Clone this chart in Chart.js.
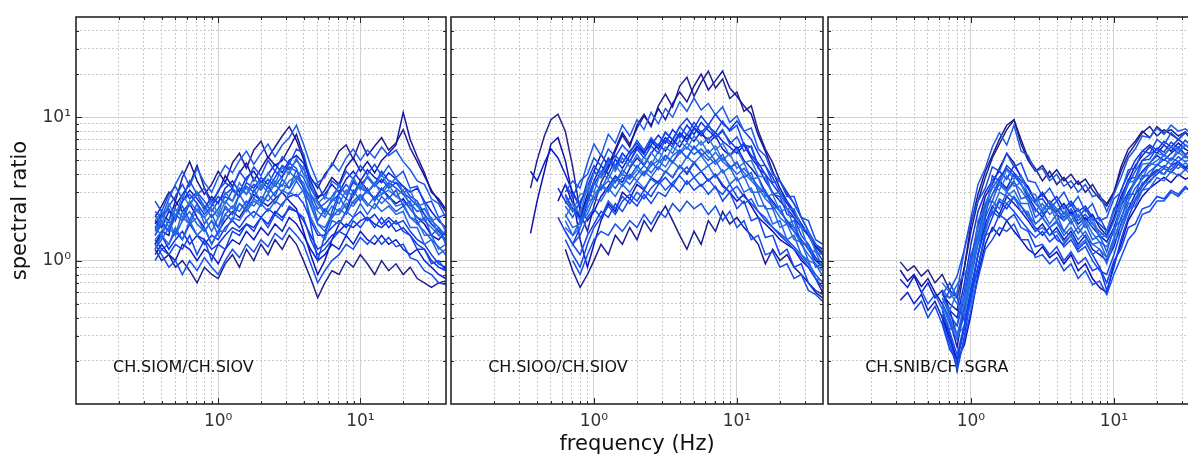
<!DOCTYPE html>
<html>
<head>
<meta charset="utf-8">
<script src="https://cdn.jsdelivr.net/npm/chart.js@4.4.1/dist/chart.umd.min.js"></script>
<style>
  html, body { margin: 0; padding: 0; background: #fff; overflow: hidden; width: 1188px; height: 460px; }
  canvas { position: absolute; top: 0; }
</style>
</head>
<body>
<canvas id="siom" width="450" height="460" style="left:0"></canvas>
<canvas id="sioo" width="380" height="460" style="left:447px"></canvas>
<canvas id="snib" width="380" height="460" style="left:824px"></canvas>
<script>
// frequencies (Hz) of the spectral ratio samples
const freq = [0.36, 0.4, 0.45, 0.5, 0.56, 0.63, 0.71, 0.8, 0.9, 1, 1.12, 1.26, 1.41, 1.58, 1.78, 2, 2.24, 2.51, 2.82, 3.16,
  3.55, 3.98, 4.47, 5.01, 5.62, 6.31, 7.08, 7.94, 8.91, 10, 11.2, 12.6, 14.1, 15.8, 17.8, 20, 22.4, 25.1, 28.2, 31.6, 35.5, 39.8];
const freqSnib = [0.32].concat(freq);

// grid / tick positions
const xGrid = [0.2, 0.3, 0.4, 0.5, 0.6, 0.7, 0.8, 0.9, 1, 2, 3, 4, 5, 6, 7, 8, 9, 10, 20, 30];
const yGrid = [0.2, 0.3, 0.4, 0.5, 0.6, 0.7, 0.8, 0.9, 1, 2, 3, 4, 5, 6, 7, 8, 9, 10, 20, 30, 40];
const majorTicks = [1, 10];
const tickLabels = { 1: '10\u2070', 10: '10\u00b9' };

const stationPairs = ['CH.SIOM/CH.SIOV', 'CH.SIOO/CH.SIOV', 'CH.SNIB/CH.SGRA'];

// spectral ratio curves, one array per event (first ones are drawn on top)
const siomCurves = [
  [2.1, 1.8, 2.5, 2.0, 2.9, 2.4, 3.0, 2.2, 2.6, 2.1, 3.0, 2.6, 3.5, 2.9, 3.8, 3.2, 4.1, 3.4, 4.5, 4.0, 5.2, 4.0, 3.4, 2.5, 2.8, 2.6, 3.4, 2.9, 3.8, 3.1, 3.9, 3.3, 4.0, 3.3, 3.8, 3.0, 3.1, 2.4, 2.5, 1.9, 2.0, 1.6],
  [1.2, 1.5, 1.3, 1.7, 1.4, 1.9, 1.5, 1.7, 1.3, 1.6, 1.6, 2.0, 1.9, 2.3, 2.0, 2.5, 2.2, 2.6, 2.4, 3.0, 2.8, 3.1, 2.0, 1.6, 1.4, 1.9, 1.8, 2.2, 2.0, 2.5, 2.1, 2.5, 2.2, 2.4, 2.1, 2.2, 1.7, 1.7, 1.3, 1.4, 1.1, 1.2],
  [1.5, 1.9, 1.6, 2.0, 2.4, 1.9, 2.5, 1.8, 2.1, 1.7, 2.4, 2.1, 2.9, 2.4, 3.1, 2.6, 3.3, 2.8, 3.7, 3.2, 4.3, 3.2, 2.8, 1.9, 2.3, 2.0, 2.8, 2.3, 3.1, 2.6, 3.2, 2.6, 3.2, 2.7, 3.1, 2.4, 2.6, 1.8, 2.0, 1.5, 1.7, 1.3],
  [2.6, 2.2, 2.9, 3.3, 2.7, 3.6, 2.9, 3.2, 2.4, 3.1, 3.5, 3.2, 4.2, 3.6, 4.5, 3.9, 5.0, 4.2, 5.3, 4.7, 6.0, 5.6, 3.6, 3.4, 2.7, 3.6, 3.3, 4.2, 3.7, 4.6, 4.0, 4.7, 3.9, 4.6, 3.8, 4.2, 3.2, 3.3, 2.5, 2.6, 2.0, 2.1],
  [1.0, 1.2, 1.1, 1.3, 1.2, 1.5, 1.1, 1.4, 1.0, 1.3, 1.2, 1.6, 1.5, 1.8, 1.6, 2.0, 1.7, 2.1, 1.9, 2.4, 2.2, 2.0, 1.4, 1.1, 1.2, 1.4, 1.6, 1.5, 1.9, 1.7, 2.0, 1.7, 2.0, 1.7, 1.9, 1.6, 1.5, 1.2, 1.2, 0.95, 1.0, 0.85],
  [1.9, 2.2, 1.7, 2.3, 2.0, 2.6, 2.2, 2.0, 2.3, 2.0, 2.6, 2.3, 2.9, 3.2, 2.7, 3.4, 3.0, 3.6, 3.3, 4.2, 3.7, 4.5, 2.9, 2.5, 2.1, 2.7, 2.5, 3.1, 2.8, 3.4, 3.0, 3.5, 2.9, 3.4, 2.8, 3.1, 2.4, 2.5, 1.9, 2.0, 1.5, 1.6],
  [1.4, 1.6, 1.9, 1.5, 2.2, 1.8, 2.0, 1.6, 1.9, 1.5, 2.1, 1.9, 2.5, 2.2, 2.6, 2.4, 2.9, 2.5, 3.1, 2.9, 3.6, 3.0, 2.5, 1.8, 1.7, 2.1, 2.1, 2.5, 2.4, 2.8, 2.4, 2.8, 2.5, 2.8, 2.4, 2.5, 2.0, 1.9, 1.5, 1.5, 1.2, 1.3],
  [1.6, 2.0, 2.7, 3.4, 4.2, 3.3, 4.4, 3.5, 3.0, 3.8, 4.6, 4.1, 5.0, 5.8, 4.7, 5.6, 6.5, 5.3, 6.4, 7.2, 8.8, 6.5, 4.6, 3.5, 3.8, 4.8, 4.2, 5.2, 6.0, 5.0, 5.9, 5.2, 6.2, 5.4, 5.9, 4.9, 4.3, 3.6, 3.4, 2.7, 2.5, 2.0],
  [1.3, 1.1, 0.9, 1.0, 0.8, 1.0, 0.85, 1.05, 0.9, 0.8, 1.0, 1.2, 1.05, 1.3, 1.15, 1.4, 1.25, 1.55, 1.4, 1.7, 1.5, 1.3, 0.95, 0.7, 0.85, 1.0, 1.1, 1.3, 1.2, 1.45, 1.3, 1.5, 1.3, 1.45, 1.25, 1.3, 1.05, 1.0, 0.85, 0.8, 0.7, 0.68],
  [1.7, 2.0, 2.3, 1.9, 2.6, 2.9, 2.5, 2.1, 2.4, 2.8, 2.5, 3.1, 2.8, 3.5, 3.2, 3.8, 3.4, 4.2, 3.8, 4.8, 4.4, 3.2, 1.8, 1.0, 1.5, 2.2, 3.0, 2.7, 3.6, 3.2, 3.9, 3.4, 4.2, 3.6, 3.5, 3.3, 2.8, 2.6, 2.1, 1.8, 1.6, 1.5],
  [1.7, 1.5, 1.9, 2.3, 2.0, 1.8, 2.3, 2.0, 1.6, 2.0, 2.3, 2.1, 2.5, 2.3, 2.7, 2.5, 2.9, 3.4, 3.0, 3.6, 3.9, 3.5, 2.6, 2.2, 2.0, 2.4, 2.2, 2.7, 2.5, 2.8, 3.0, 2.7, 2.9, 3.1, 2.8, 2.6, 2.3, 2.0, 1.9, 1.7, 1.5, 1.4],
  [1.2, 1.4, 1.7, 1.5, 1.9, 2.2, 1.8, 1.6, 1.9, 1.7, 2.1, 2.4, 2.2, 2.6, 2.4, 2.8, 2.6, 3.0, 3.4, 3.2, 3.8, 3.3, 2.4, 1.8, 1.6, 2.0, 2.3, 2.1, 2.6, 2.9, 2.5, 2.3, 2.8, 2.5, 2.2, 2.4, 2.0, 1.8, 1.6, 1.4, 1.25, 1.1],
  [1.5, 1.8, 1.6, 2.1, 1.9, 2.5, 2.9, 2.4, 2.0, 2.3, 2.8, 2.6, 3.2, 2.9, 3.4, 3.1, 3.7, 3.3, 3.9, 4.5, 4.2, 3.8, 2.9, 2.3, 2.5, 2.8, 3.3, 2.9, 3.5, 3.2, 3.0, 3.4, 3.1, 3.5, 3.2, 2.9, 2.5, 2.2, 2.3, 1.9, 1.7, 1.5],
  [2.2, 2.0, 2.4, 2.8, 3.4, 2.7, 3.0, 2.6, 2.2, 2.6, 2.9, 3.2, 2.8, 3.3, 3.0, 3.6, 3.2, 3.8, 4.6, 4.3, 5.0, 4.4, 3.2, 2.6, 2.2, 2.6, 2.9, 3.4, 3.0, 3.4, 3.8, 3.3, 3.7, 3.2, 3.5, 3.0, 2.7, 2.4, 2.1, 1.8, 1.6, 1.4],
  [1.4, 1.2, 1.3, 1.6, 1.4, 1.8, 1.5, 1.3, 1.5, 1.4, 1.7, 1.9, 1.7, 2.0, 2.2, 2.0, 2.3, 2.1, 2.5, 2.8, 2.9, 2.5, 1.9, 1.5, 1.5, 1.7, 1.9, 1.7, 2.0, 2.2, 1.9, 2.1, 1.8, 2.0, 1.8, 1.9, 1.6, 1.4, 1.3, 1.1, 0.95, 0.9],
  [1.3, 1.5, 1.2, 1.4, 1.6, 1.3, 1.5, 1.4, 1.2, 1.3, 1.5, 1.7, 1.6, 1.8, 1.7, 2.0, 1.8, 2.2, 2.0, 2.3, 2.2, 1.9, 1.5, 1.2, 1.3, 1.5, 1.6, 1.8, 1.7, 1.9, 2.0, 1.8, 1.7, 1.9, 1.6, 1.7, 1.5, 1.3, 1.2, 1.0, 0.9, 0.85],
  [1.9, 1.7, 2.2, 2.0, 2.6, 3.1, 2.7, 2.3, 2.8, 2.5, 3.2, 3.6, 3.0, 3.8, 4.2, 3.5, 4.0, 4.7, 4.1, 5.0, 5.4, 4.8, 3.6, 2.8, 2.9, 3.4, 3.0, 3.7, 4.2, 3.6, 4.3, 3.8, 3.5, 4.1, 3.7, 3.3, 3.0, 3.2, 2.6, 2.2, 1.9, 1.7],
  [1.1, 1.3, 1.1, 1.0, 1.3, 1.2, 1.0, 1.2, 1.1, 0.95, 1.2, 1.4, 1.3, 1.6, 1.4, 1.7, 1.5, 1.8, 1.6, 2.0, 1.8, 1.5, 1.2, 1.0, 1.1, 1.3, 1.2, 1.5, 1.3, 1.6, 1.4, 1.3, 1.5, 1.3, 1.4, 1.2, 1.1, 1.2, 1.0, 0.9, 0.8, 0.75],
  [1.8, 2.1, 1.9, 2.6, 2.2, 2.5, 2.0, 1.7, 1.3, 1.6, 1.9, 2.2, 2.0, 2.4, 2.9, 2.6, 2.4, 2.7, 3.0, 2.6, 2.3, 1.6, 1.1, 0.8, 1.0, 1.4, 1.8, 2.2, 2.9, 3.6, 3.1, 2.7, 3.2, 2.8, 2.5, 2.7, 2.3, 2.0, 1.8, 1.5, 1.4, 1.6],
  [1.3, 1.6, 1.5, 2.4, 2.9, 3.4, 4.6, 3.2, 2.6, 3.0, 3.9, 3.3, 4.1, 4.8, 3.6, 4.4, 5.3, 4.6, 5.0, 6.1, 7.6, 5.4, 3.3, 2.7, 3.1, 3.8, 3.4, 4.5, 5.2, 4.2, 4.9, 4.1, 5.0, 5.6, 6.4, 10.8, 7.0, 5.3, 4.1, 3.0, 2.7, 2.3],
  [2.0, 2.4, 3.0, 2.6, 3.8, 4.9, 3.6, 2.9, 3.4, 4.2, 3.5, 4.8, 5.6, 4.4, 5.9, 6.8, 5.2, 6.2, 7.4, 8.6, 6.9, 5.1, 3.8, 3.2, 4.0, 4.6, 5.8, 6.4, 5.1, 6.9, 5.4, 6.3, 7.2, 5.9, 6.6, 8.2, 6.1, 4.9, 3.9, 3.1, 2.6, 2.2],
  [1.2, 1.0, 1.1, 0.9, 1.0, 0.85, 0.7, 0.9, 0.8, 0.75, 0.95, 1.1, 0.9, 1.2, 1.0, 1.3, 1.1, 1.4, 1.2, 1.5, 1.3, 1.0, 0.75, 0.55, 0.7, 0.85, 0.8, 1.0, 0.9, 1.1, 0.95, 0.8, 1.0, 0.85, 0.95, 0.8, 0.9, 0.75, 0.7, 0.65, 0.7, 0.72]
];

const siooCurves = [
  [null, null, null, null, null, 2.8, 2.2, 2.9, 3.0, 4.1, 3.8, 4.9, 4.2, 5.2, 4.5, 5.5, 4.7, 5.7, 4.9, 6.2, 5.6, 6.9, 6.0, 7.4, 6.4, 7.2, 5.9, 6.6, 5.4, 5.9, 4.8, 5.0, 3.9, 3.8, 2.9, 3.0, 2.3, 2.3, 1.7, 1.6, 1.15, 1.1],
  [null, null, null, null, null, 1.7, 1.5, 1.9, 2.1, 2.7, 2.6, 3.2, 2.8, 3.4, 3.0, 3.6, 3.2, 3.7, 3.4, 4.2, 3.8, 4.6, 4.1, 4.9, 4.2, 4.6, 3.8, 4.3, 3.4, 3.8, 3.0, 3.2, 2.4, 2.4, 1.8, 1.9, 1.4, 1.5, 1.1, 1.0, 0.75, 0.72],
  [null, null, null, null, null, null, 2.3, 1.9, 2.6, 3.5, 3.1, 4.0, 3.5, 4.3, 3.8, 4.6, 4.0, 4.9, 4.3, 5.4, 4.8, 5.9, 5.2, 6.3, 5.4, 5.9, 4.9, 5.5, 4.4, 4.9, 3.8, 4.1, 3.0, 3.1, 2.3, 2.4, 1.8, 1.9, 1.3, 1.3, 0.9, 0.95],
  [null, null, null, null, null, 3.4, 2.8, 3.6, 4.0, 5.2, 4.6, 6.0, 5.3, 6.4, 5.6, 6.9, 5.9, 7.2, 6.3, 7.9, 6.9, 8.6, 7.5, 9.2, 7.8, 8.9, 7.2, 8.2, 6.5, 7.3, 5.8, 6.3, 4.6, 4.6, 3.5, 3.6, 2.8, 2.8, 2.0, 1.9, 1.4, 1.3],
  [null, null, null, null, null, null, 1.3, 1.1, 1.5, 1.8, 2.2, 2.0, 2.5, 2.2, 2.7, 2.4, 2.9, 2.5, 3.0, 2.8, 3.4, 3.0, 3.6, 3.1, 3.4, 2.9, 3.3, 2.6, 3.0, 2.3, 2.6, 1.9, 2.0, 1.45, 1.5, 1.1, 1.2, 0.9, 0.95, 0.7, 0.62, 0.58],
  [null, null, null, null, null, 2.0, 2.5, 2.1, 3.3, 3.0, 4.2, 3.7, 4.6, 4.0, 5.0, 4.4, 5.3, 4.6, 5.8, 5.0, 6.2, 5.7, 6.6, 6.0, 6.8, 5.6, 6.3, 5.0, 5.6, 4.4, 4.8, 3.7, 3.8, 2.8, 2.9, 2.2, 2.3, 1.7, 1.7, 1.2, 1.15, 0.9],
  [null, null, null, null, null, 2.1, 1.7, 1.8, 2.6, 2.7, 3.4, 3.1, 3.8, 3.3, 4.0, 3.6, 4.2, 3.8, 4.5, 4.1, 4.9, 4.4, 5.3, 4.8, 5.4, 4.6, 5.0, 4.1, 4.5, 3.6, 3.9, 3.0, 3.0, 2.3, 2.3, 1.7, 1.8, 1.4, 1.35, 1.0, 0.95, 0.78],
  [null, null, null, null, null, 3.0, 3.6, 3.2, 4.8, 6.5, 5.4, 7.6, 6.6, 8.8, 7.4, 9.6, 8.2, 10.8, 9.0, 11.5, 10.0, 12.8, 11.0, 13.6, 11.2, 12.5, 10.4, 11.8, 9.2, 10.2, 8.0, 8.4, 6.0, 5.4, 4.0, 3.6, 2.9, 2.5, 2.0, 1.6, 1.3, 1.15],
  [null, null, null, null, null, null, 1.0, 0.8, 1.1, 1.4, 1.6, 1.5, 1.8, 1.6, 1.9, 1.7, 2.1, 1.8, 2.2, 2.0, 2.5, 2.2, 2.6, 2.3, 2.5, 2.1, 2.4, 1.9, 2.2, 1.7, 1.9, 1.4, 1.5, 1.1, 1.15, 0.9, 0.95, 0.75, 0.8, 0.62, 0.58, 0.52],
  [null, null, null, null, null, 2.5, 2.9, 2.4, 3.6, 4.6, 4.0, 5.2, 4.6, 5.6, 4.9, 6.0, 5.2, 6.3, 5.6, 6.9, 6.2, 7.6, 6.7, 8.3, 7.4, 8.6, 7.8, 9.4, 8.0, 8.8, 6.4, 6.2, 4.4, 4.0, 2.9, 2.8, 2.1, 2.0, 1.5, 1.3, 1.05, 0.9],
  [null, null, null, null, null, 1.9, 1.5, 1.7, 2.3, 2.9, 3.3, 3.0, 3.6, 4.0, 3.7, 4.3, 3.9, 4.6, 5.0, 4.5, 5.4, 5.9, 5.2, 6.2, 5.6, 5.0, 5.7, 4.9, 4.4, 4.8, 4.1, 3.6, 3.2, 2.7, 2.4, 2.0, 1.8, 1.6, 1.3, 1.1, 0.95, 0.85],
  [null, null, null, null, null, 2.4, 2.0, 2.6, 3.1, 2.7, 3.2, 3.6, 3.2, 3.8, 3.4, 4.0, 4.6, 4.1, 4.8, 5.4, 4.9, 5.6, 6.2, 5.5, 6.0, 5.3, 4.7, 5.2, 4.6, 4.0, 4.4, 3.8, 3.3, 2.9, 2.5, 2.2, 1.9, 1.7, 1.4, 1.2, 1.05, 0.95],
  [null, null, null, null, null, 1.6, 1.3, 1.5, 2.0, 2.3, 2.0, 2.6, 2.3, 2.8, 2.5, 3.0, 2.7, 3.2, 3.6, 3.1, 3.5, 3.9, 3.4, 3.8, 3.3, 3.7, 3.2, 2.9, 3.4, 2.8, 2.5, 2.7, 2.2, 2.0, 1.7, 1.55, 1.4, 1.25, 1.1, 0.95, 0.8, 0.7],
  [null, null, null, null, null, 1.4, 1.1, 0.9, 1.3, 1.7, 2.0, 2.4, 2.1, 2.6, 2.9, 2.6, 3.1, 2.8, 3.4, 3.8, 3.3, 4.0, 4.5, 3.8, 4.2, 3.6, 4.0, 3.4, 3.0, 3.3, 2.8, 2.5, 2.2, 1.9, 1.7, 1.5, 1.35, 1.2, 1.05, 0.9, 0.75, 0.65],
  [null, null, null, null, 2.0, 1.6, 1.3, 1.7, 2.5, 3.4, 4.1, 5.0, 4.4, 5.6, 4.9, 6.2, 5.5, 7.0, 6.3, 7.8, 7.0, 8.6, 9.8, 8.4, 10.2, 8.8, 10.5, 9.0, 8.2, 9.4, 8.0, 7.0, 5.6, 4.6, 3.8, 3.0, 2.6, 2.2, 1.8, 1.5, 1.2, 1.0],
  [null, null, null, null, 3.2, 2.6, 2.2, 2.5, 3.3, 4.2, 3.8, 4.6, 5.4, 4.8, 5.8, 6.6, 5.7, 6.4, 7.5, 6.6, 8.2, 7.2, 8.8, 7.6, 9.2, 8.1, 7.2, 8.0, 6.8, 6.0, 6.6, 5.4, 4.8, 4.0, 3.4, 2.9, 2.5, 2.1, 1.8, 1.5, 1.3, 1.1],
  [null, null, null, null, null, 2.9, 2.3, 2.0, 2.7, 3.6, 4.6, 4.0, 5.1, 4.4, 5.4, 6.3, 5.6, 6.8, 6.0, 7.2, 6.5, 7.8, 7.0, 8.5, 7.6, 7.0, 7.8, 6.8, 6.2, 5.6, 6.4, 5.2, 4.5, 3.6, 3.0, 2.6, 2.3, 2.0, 1.7, 1.5, 1.3, 1.2],
  [4.2, 3.6, 4.8, 6.0, 5.2, 4.0, 3.0, 2.4, 1.9, 2.2, 2.8, 3.3, 3.9, 3.5, 4.4, 5.2, 4.6, 5.6, 6.5, 5.8, 7.0, 6.2, 7.6, 6.8, 8.0, 6.6, 7.4, 6.0, 5.4, 6.2, 5.0, 4.4, 3.8, 3.0, 2.6, 2.2, 1.9, 1.6, 1.4, 1.2, 1.0, 0.9],
  [1.55, 2.6, 4.2, 6.5, 7.2, 5.0, 2.8, 1.4, 0.9, 1.3, 1.9, 2.5, 2.2, 3.0, 2.7, 3.4, 3.1, 3.8, 3.5, 4.2, 3.8, 4.6, 4.0, 4.8, 4.2, 3.6, 4.0, 3.3, 3.0, 2.6, 2.9, 2.4, 2.0, 1.8, 1.6, 1.4, 1.3, 1.2, 1.0, 0.9, 0.75, 0.6],
  [null, null, null, null, 2.6, 3.4, 2.5, 2.0, 2.9, 4.2, 5.5, 4.6, 6.0, 7.8, 6.5, 8.4, 10.2, 8.8, 11.5, 9.6, 12.5, 15.0, 12.8, 16.5, 20.0, 15.5, 18.0, 21.0, 16.0, 14.0, 12.0, 10.5, 7.5, 5.8, 4.2, 3.2, 2.6, 2.2, 1.8, 1.5, 1.25, 1.1],
  [null, null, null, null, null, 1.2, 0.85, 0.65, 0.8, 1.0, 1.3, 1.1, 1.5, 1.3, 1.7, 1.4, 1.9, 1.6, 2.0, 2.4, 1.9, 1.5, 1.2, 1.6, 1.3, 1.9, 1.6, 2.2, 1.8, 2.0, 1.7, 1.5, 1.3, 0.95, 1.2, 1.0, 1.1, 0.9, 0.8, 0.7, 0.6, 0.55],
  [3.2, 5.0, 7.4, 9.6, 10.5, 8.0, 4.5, 2.2, 1.6, 2.4, 3.5, 4.4, 5.8, 7.5, 6.2, 8.8, 10.5, 8.6, 12.0, 14.5, 11.8, 16.5, 19.0, 14.0, 17.5, 21.0, 16.0, 18.5, 13.5, 15.0, 11.0, 12.0, 8.0, 6.0, 4.8, 3.6, 3.0, 2.5, 2.0, 1.6, 1.3, 1.1]
];

const snibCurves = [
  [null, null, null, null, null, null, 0.55, 0.45, 0.6, 0.5, 0.85, 1.4, 2.2, 3.6, 3.4, 4.3, 3.7, 3.9, 2.9, 2.9, 2.3, 2.6, 2.1, 2.4, 1.9, 2.3, 1.8, 2.0, 1.5, 1.6, 2.2, 2.4, 3.5, 3.6, 4.7, 4.8, 5.6, 5.4, 6.3, 5.9, 6.4, 5.8, 6.1],
  [null, null, null, null, null, null, 0.62, 0.55, 0.68, 0.8, 1.0, 1.3, 1.9, 2.1, 2.7, 2.5, 2.8, 2.2, 2.2, 1.6, 1.7, 1.5, 1.6, 1.35, 1.5, 1.25, 1.4, 1.1, 1.2, 0.95, 1.35, 1.6, 2.3, 2.4, 3.1, 3.2, 3.8, 3.6, 4.2, 3.9, 4.3, 3.9, 4.1],
  [null, null, null, 0.62, 0.5, 0.58, 0.46, 0.33, 0.36, 0.62, 1.1, 1.5, 2.5, 2.6, 3.5, 3.1, 3.6, 2.7, 2.8, 2.0, 2.2, 1.8, 2.1, 1.6, 1.9, 1.55, 1.8, 1.4, 1.5, 1.15, 1.7, 1.9, 2.9, 2.9, 3.9, 3.9, 4.7, 4.4, 5.2, 4.9, 5.4, 4.8, 5.2],
  [null, null, null, null, null, null, 0.5, 0.62, 0.78, 1.2, 1.9, 2.6, 3.2, 4.5, 4.2, 5.6, 4.5, 4.8, 3.6, 3.5, 2.8, 3.2, 2.6, 3.0, 2.4, 2.8, 2.2, 2.5, 1.9, 2.0, 2.7, 3.0, 4.3, 4.4, 5.8, 5.6, 7.0, 6.4, 7.8, 7.0, 7.9, 7.0, 7.4],
  [null, null, 0.45, 0.52, 0.4, 0.48, 0.36, 0.24, 0.2, 0.34, 0.6, 0.9, 1.5, 1.6, 2.1, 1.9, 2.1, 1.7, 1.6, 1.25, 1.3, 1.1, 1.25, 1.0, 1.15, 0.95, 1.05, 0.85, 0.9, 0.7, 1.0, 1.2, 1.7, 1.8, 2.3, 2.4, 2.8, 2.7, 3.1, 2.9, 3.3, 2.9, 3.1],
  [null, null, null, null, null, null, 0.7, 0.6, 0.5, 0.42, 0.75, 1.9, 2.4, 3.3, 3.1, 3.9, 3.3, 3.5, 2.6, 2.7, 2.1, 2.4, 1.9, 2.2, 1.8, 2.1, 1.7, 1.85, 1.45, 1.5, 1.5, 2.6, 2.7, 3.8, 3.7, 4.8, 4.6, 5.5, 5.0, 6.0, 5.4, 5.9, 5.3],
  [null, null, null, null, null, null, 0.5, 0.4, 0.3, 0.35, 0.5, 0.9, 1.6, 2.3, 3.0, 2.8, 3.1, 2.5, 2.5, 1.8, 2.0, 1.7, 1.85, 1.5, 1.7, 1.4, 1.6, 1.3, 1.35, 1.05, 1.45, 1.75, 2.5, 2.6, 3.5, 3.5, 4.2, 4.0, 4.6, 4.4, 4.8, 4.4, 4.6],
  [null, null, null, null, null, null, 0.58, 0.55, 0.6, 1.2, 2.0, 3.4, 4.4, 6.2, 7.8, 6.4, 8.8, 5.8, 5.4, 4.2, 4.4, 3.6, 4.0, 3.3, 3.6, 3.0, 3.4, 2.8, 2.9, 2.2, 2.9, 3.8, 5.2, 6.0, 7.4, 7.2, 8.4, 7.6, 8.8, 8.0, 8.3, 7.5, 7.8],
  [null, null, null, null, null, null, 0.38, 0.26, 0.18, 0.28, 0.45, 0.75, 1.2, 1.4, 1.7, 1.6, 1.8, 1.4, 1.4, 1.05, 1.1, 0.95, 1.05, 0.85, 0.95, 0.75, 0.85, 0.68, 0.72, 0.58, 0.8, 1.05, 1.4, 1.6, 2.1, 2.2, 2.6, 2.6, 3.0, 2.8, 3.2, 3.0, 3.4],
  [null, null, null, null, null, null, 0.58, 0.7, 0.55, 0.38, 0.6, 1.1, 2.0, 3.9, 3.6, 4.6, 4.1, 3.6, 3.3, 2.6, 2.7, 2.3, 2.6, 2.1, 2.5, 2.0, 2.3, 1.9, 2.0, 1.6, 2.3, 2.6, 3.7, 3.8, 5.0, 5.1, 6.1, 5.7, 6.7, 6.1, 6.9, 6.2, 6.6],
  [null, null, null, null, null, null, 0.48, 0.38, 0.3, 0.5, 0.9, 1.5, 2.3, 2.9, 3.4, 3.0, 3.5, 3.1, 2.6, 2.2, 2.5, 2.1, 2.3, 1.9, 2.1, 1.7, 1.9, 1.55, 1.35, 1.25, 1.6, 2.2, 2.9, 3.5, 4.1, 4.6, 5.0, 5.4, 5.0, 5.7, 5.2, 5.5, 5.1],
  [null, null, null, null, null, null, 0.5, 0.36, 0.28, 0.42, 0.75, 1.3, 2.0, 2.6, 2.3, 3.0, 2.7, 2.4, 2.1, 1.8, 2.0, 1.7, 1.9, 1.6, 1.5, 1.7, 1.45, 1.3, 1.2, 1.05, 1.4, 2.0, 2.6, 3.2, 3.7, 4.2, 4.6, 5.1, 4.7, 5.3, 4.9, 5.2, 4.8],
  [null, null, null, null, null, null, 0.55, 0.42, 0.35, 0.55, 1.0, 1.7, 2.5, 3.2, 3.8, 4.4, 3.9, 3.4, 2.9, 2.5, 2.2, 2.6, 2.3, 2.0, 2.3, 1.9, 2.1, 1.8, 1.6, 1.45, 1.9, 2.6, 3.4, 4.2, 5.0, 5.5, 6.0, 5.4, 6.2, 5.6, 6.4, 5.8, 5.5],
  [null, null, null, null, null, null, 0.42, 0.32, 0.22, 0.36, 0.65, 1.1, 1.7, 2.2, 2.0, 2.5, 2.2, 1.9, 1.65, 1.45, 1.6, 1.35, 1.5, 1.25, 1.4, 1.15, 1.25, 1.0, 0.85, 0.8, 1.1, 1.6, 2.2, 2.7, 3.3, 3.8, 4.2, 4.6, 4.3, 4.9, 4.5, 4.8, 4.4],
  [null, null, null, null, null, null, 0.45, 0.3, 0.17, 0.3, 0.55, 0.9, 1.5, 2.0, 2.6, 2.3, 2.8, 2.4, 2.0, 1.7, 1.5, 1.7, 1.4, 1.3, 1.5, 1.2, 1.35, 1.1, 0.9, 0.62, 0.9, 1.4, 2.0, 2.6, 3.1, 3.6, 4.0, 4.4, 4.1, 4.7, 4.3, 4.6, 4.2],
  [null, null, null, null, null, null, 0.6, 0.45, 0.4, 0.7, 1.3, 2.2, 3.0, 3.6, 4.2, 3.7, 4.6, 3.9, 3.2, 2.6, 3.0, 2.5, 2.8, 2.3, 2.6, 2.2, 2.4, 2.0, 1.8, 1.6, 2.2, 3.1, 4.0, 5.0, 5.8, 6.4, 5.9, 6.8, 6.2, 7.0, 6.4, 6.0, 6.3],
  [0.74, 0.65, 0.78, 0.6, 0.7, 0.55, 0.62, 0.45, 0.3, 0.45, 0.8, 1.4, 2.2, 2.9, 3.6, 3.2, 4.0, 3.4, 2.8, 2.3, 2.0, 2.4, 2.1, 1.9, 2.2, 1.8, 2.0, 1.7, 1.5, 1.35, 1.7, 2.4, 3.0, 3.6, 4.2, 4.8, 5.4, 5.0, 5.6, 6.2, 5.5, 6.0, 5.4],
  [0.53, 0.6, 0.5, 0.58, 0.45, 0.52, 0.4, 0.3, 0.2, 0.35, 0.6, 1.1, 1.8, 2.4, 2.1, 2.8, 2.5, 2.2, 1.9, 1.6, 1.8, 1.5, 1.7, 1.4, 1.6, 1.3, 1.5, 1.2, 1.1, 1.0, 1.25, 1.8, 2.3, 2.9, 3.4, 3.9, 4.3, 4.0, 4.6, 4.9, 4.4, 4.8, 4.5],
  [null, null, null, null, null, null, 0.4, 0.28, 0.2, 0.26, 0.42, 0.8, 1.3, 1.7, 1.5, 1.9, 1.6, 1.4, 1.2, 1.1, 1.25, 1.05, 1.15, 0.95, 1.1, 0.85, 0.95, 0.75, 0.65, 0.6, 0.95, 1.3, 1.9, 2.3, 2.8, 3.2, 3.5, 3.8, 3.5, 4.0, 3.7, 3.9, 3.6],
  [0.86, 0.72, 0.8, 0.66, 0.75, 0.6, 0.5, 0.38, 0.25, 0.5, 1.0, 1.8, 2.8, 3.4, 4.4, 5.6, 4.8, 3.8, 3.2, 2.6, 2.9, 2.5, 2.2, 2.5, 2.1, 2.3, 1.9, 2.1, 1.7, 1.5, 2.0, 2.8, 3.6, 4.6, 5.4, 6.2, 5.6, 6.4, 5.8, 6.6, 6.0, 5.6, 5.9],
  [null, null, null, null, null, null, 0.58, 0.5, 0.45, 0.9, 1.8, 2.9, 4.2, 5.4, 7.0, 8.8, 9.6, 6.5, 5.0, 4.2, 4.6, 3.8, 4.3, 3.6, 4.0, 3.4, 3.7, 3.1, 2.7, 2.4, 3.0, 4.5, 6.0, 6.8, 8.0, 7.2, 8.6, 7.8, 8.2, 7.4, 7.9, 7.0, 6.8],
  [0.98, 0.85, 0.92, 0.78, 0.86, 0.7, 0.8, 0.62, 0.55, 0.9, 1.6, 2.6, 3.8, 5.2, 6.5, 8.2, 9.6, 7.0, 5.2, 4.4, 3.6, 4.2, 3.4, 3.8, 3.2, 3.6, 3.0, 3.4, 2.8, 2.5, 3.0, 4.2, 5.5, 6.5, 7.8, 8.6, 7.4, 8.2, 7.6, 7.0, 7.8, 6.8, 6.5]
];

// lighter blue for the dense core, dark navy for the outer curves
const curveColors = ['#2c72de', '#2466e4', '#1c5ae8', '#164eec', '#1244ec', '#2c72de', '#2466e4', '#1c5ae8', '#164eec', '#1244ec',
  '#2a6ae0', '#1f5ce6', '#1850ea', '#1446ec', '#0f3ae8', '#0c30e0', '#0a24d4', '#0a1cc4', '#1010b0', '#16169e', '#1c1c8e', '#22228a'];

Chart.defaults.font.family = '"DejaVu Sans", sans-serif';

// frame, inward ticks and station label like the matplotlib figure
const framePlugin = {
  id: 'frame',
  beforeDatasetsDraw(chart, args, opts) {
    const { ctx, chartArea: a } = chart;
    ctx.save();
    ctx.font = '16px "DejaVu Sans"';
    ctx.fillStyle = '#111';
    ctx.textBaseline = 'alphabetic';
    ctx.fillText(opts.label, a.left + 0.1 * (a.right - a.left), a.bottom - 32);
    ctx.restore();
  },
  afterDraw(chart) {
    const { ctx, chartArea: a, scales: { x, y } } = chart;
    ctx.save();
    ctx.strokeStyle = '#262626';
    ctx.lineWidth = 1;
    ctx.beginPath();
    xGrid.forEach(v => {
      const px = Math.round(x.getPixelForValue(v)) + 0.5;
      const len = majorTicks.includes(v) ? 6 : 3;
      ctx.moveTo(px, a.top); ctx.lineTo(px, a.top + len);
      ctx.moveTo(px, a.bottom); ctx.lineTo(px, a.bottom - len);
    });
    yGrid.forEach(v => {
      const py = Math.round(y.getPixelForValue(v)) + 0.5;
      const len = majorTicks.includes(v) ? 6 : 3;
      ctx.moveTo(a.left, py); ctx.lineTo(a.left + len, py);
      ctx.moveTo(a.right, py); ctx.lineTo(a.right - len, py);
    });
    ctx.stroke();
    ctx.lineWidth = 1.6;
    ctx.strokeRect(a.left, a.top, a.right - a.left, a.bottom - a.top);
    ctx.restore();
  }
};

const isMajor = ctx => ctx.tick && majorTicks.includes(ctx.tick.value);

function makeChart(id, labels, curves, label, cfg) {
  new Chart(document.getElementById(id), {
    type: 'line',
    data: {
      labels: labels,
      datasets: curves.map((c, i) => ({
        data: c,
        borderColor: curveColors[i],
        borderWidth: 1.5,
        pointRadius: 0,
        tension: 0,
        spanGaps: false
      }))
    },
    options: {
      responsive: false,
      animation: false,
      events: [],
      layout: { padding: { top: 17, right: 4, left: cfg.padLeft, bottom: 0 } },
      plugins: {
        legend: { display: false },
        tooltip: { enabled: false },
        frame: { label: label }
      },
      scales: {
        x: {
          type: 'logarithmic',
          min: 0.1,
          max: 40,
          afterBuildTicks: s => { s.ticks = xGrid.map(v => ({ value: v })); },
          afterFit: s => { s.height = 56; },
          grid: { color: ctx => isMajor(ctx) ? '#d2d2d2' : '#c8c8c8', drawTicks: false },
          border: { display: false, dash: ctx => isMajor(ctx) ? [] : [2, 2] },
          ticks: {
            autoSkip: false, maxRotation: 0, padding: 7, color: '#333',
            font: { size: 17 },
            callback: v => tickLabels[v] || ''
          },
          title: {
            display: cfg.xTitle,
            text: 'frequency (Hz)',
            color: '#111',
            font: { size: 21 },
            padding: { top: 0, bottom: 3 }
          }
        },
        y: {
          type: 'logarithmic',
          min: 0.1,
          max: 50,
          afterBuildTicks: s => { s.ticks = yGrid.map(v => ({ value: v })); },
          afterFit: s => { s.width = cfg.yWidth; },
          grid: { color: ctx => isMajor(ctx) ? '#d2d2d2' : '#c8c8c8', drawTicks: false },
          border: { display: false, dash: ctx => isMajor(ctx) ? [] : [2, 2] },
          ticks: {
            display: cfg.yTicks, autoSkip: false, padding: 5, color: '#333',
            font: { size: 17 },
            callback: v => tickLabels[v] || ''
          },
          title: {
            display: cfg.yTicks,
            text: 'spectral ratio',
            color: '#111',
            font: { size: 21 },
            padding: { top: 8, bottom: 0 }
          }
        }
      }
    },
    plugins: [framePlugin]
  });
}

makeChart('siom', freq, siomCurves, stationPairs[0], { padLeft: 0, yWidth: 76, yTicks: true, xTitle: false });
makeChart('sioo', freq, siooCurves, stationPairs[1], { padLeft: 4, yWidth: 0, yTicks: false, xTitle: true });
makeChart('snib', freqSnib, snibCurves, stationPairs[2], { padLeft: 4, yWidth: 0, yTicks: false, xTitle: false });
</script>
</body>
</html>
